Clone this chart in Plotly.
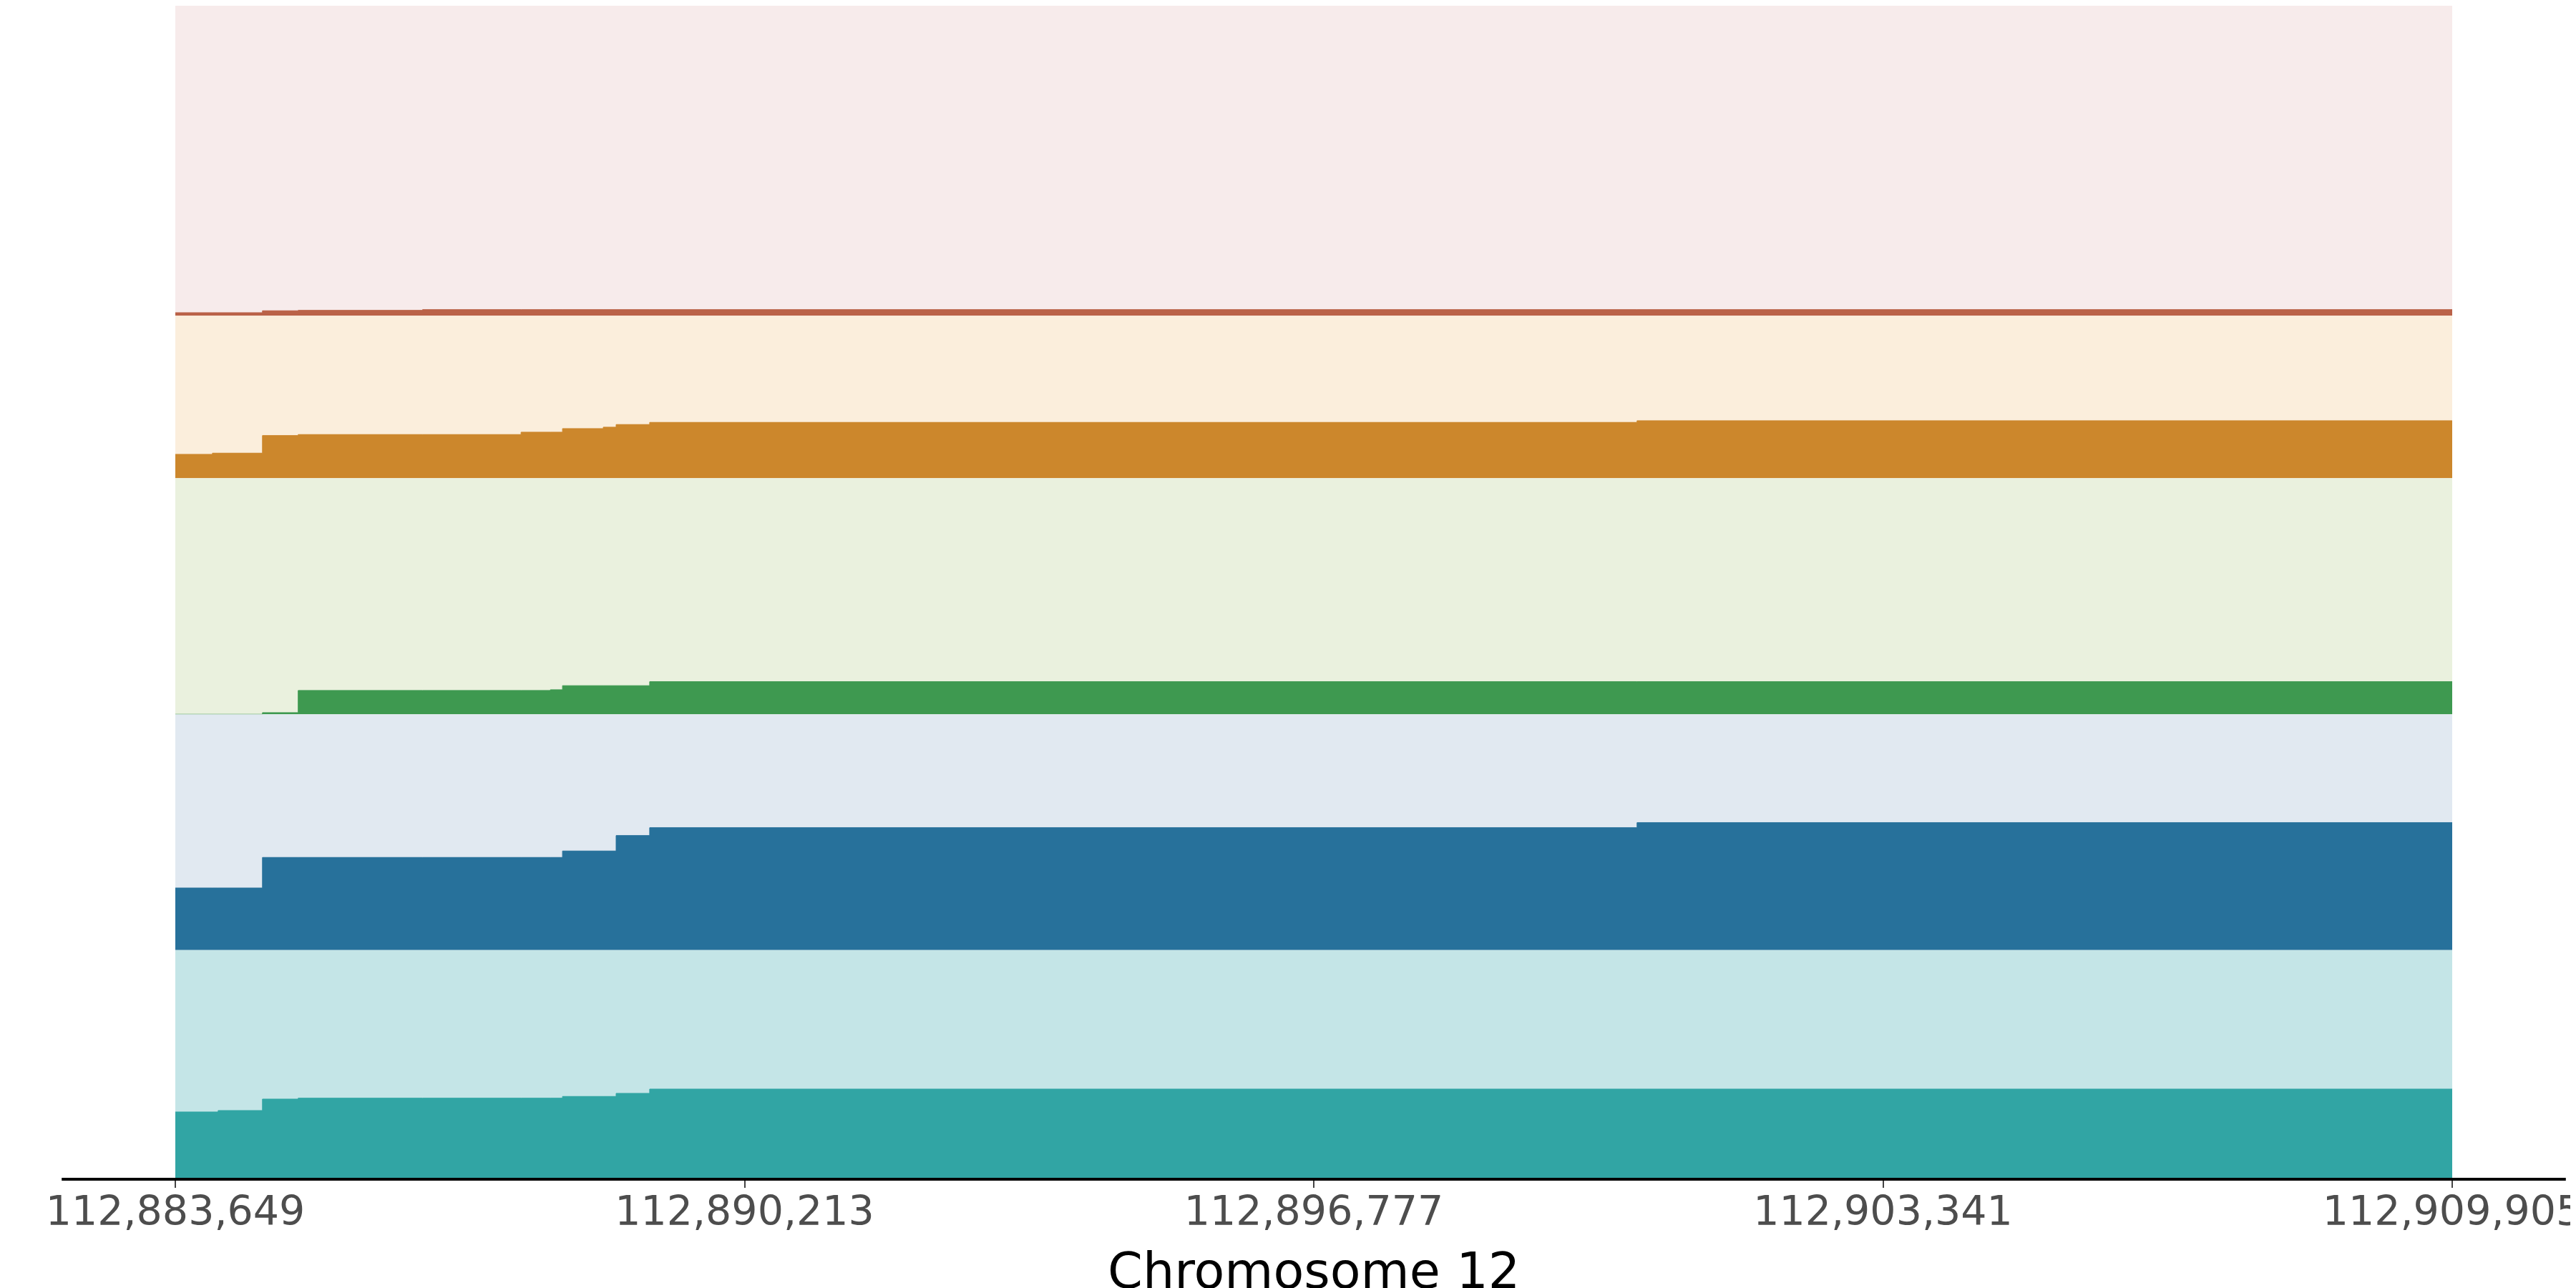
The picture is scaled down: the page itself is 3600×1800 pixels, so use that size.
import plotly.graph_objects as go

# ---- data ----
x_start = 112883649
x_end = 112909905
tick_vals = [112883649, 112890213, 112896777, 112903341, 112909905]
axis_title = "Chromosome 12"

# bin edges (bp) shared by all tracks
edges = [112883649, 112884077, 112884143, 112884654, 112885066, 112886500,
         112887636, 112887974, 112888114, 112888584, 112888732, 112889119,
         112900505, 112909905]

# per-bin signal values (top track first)
track_names = ["track1", "track2", "track3", "track4", "track5"]
red_vals    = [4.3, 4.3, 4.3, 7.0, 7.6, 8.6, 8.6, 8.6, 8.6, 8.6, 8.6, 8.6, 8.6]
orange_vals = [33.3, 35, 35, 59.6, 61, 61, 64.3, 64.3, 69.3, 71.3, 75, 78, 80.3]
green_vals  = [0, 0, 0, 2.3, 33.3, 33.3, 33.3, 34.3, 40, 40, 40, 45.6, 45.6]
blue_vals   = [86.7, 86.7, 86.7, 129.4, 129.4, 129.4, 129.4, 129.4, 138.4, 138.4, 160, 171, 178]
teal_vals   = [92, 92, 94, 110, 111.3, 111.3, 111.3, 111.3, 113.7, 113.7, 118, 124, 124]

# per-track axis maxima
track_max = [433, 227, 330, 329.4, 318.3]

# ---- styling ----
fill_colors = ["#ba6248", "#cc872c", "#3e9950", "#27719b", "#31a5a4"]
bg_colors = ["#f7ebeb", "#fbeedc", "#eaf1de", "#e1e9f1", "#c4e5e7"]
domains = [(0.7358, 1.0), (0.5974, 0.7358), (0.3962, 0.5974), (0.1953, 0.3962), (0.0, 0.1953)]
range_min = [0, 0, 0, 0, -2]

all_vals = [red_vals, orange_vals, green_vals, blue_vals, teal_vals]

fig = go.Figure()
layout_axes = {}
for i, (name, vals) in enumerate(zip(track_names, all_vals)):
    yname = "y" if i == 0 else f"y{i+1}"
    ykey = "yaxis" if i == 0 else f"yaxis{i+1}"
    fig.add_trace(go.Scatter(
        x=edges, y=vals + [vals[-1]], xaxis="x", yaxis=yname,
        mode="lines", line=dict(shape="hv", width=1, color=fill_colors[i]),
        fill="tozeroy", fillcolor=fill_colors[i], name=name,
        showlegend=False, hoverinfo="skip",
    ))
    layout_axes[ykey] = dict(domain=list(domains[i]), range=[range_min[i], track_max[i]],
                             anchor="x", showgrid=False, zeroline=False,
                             showticklabels=False, ticks="", showline=False, fixedrange=True)
    fig.add_shape(type="rect", xref="x", yref=f"{yname} domain",
                  x0=x_start, x1=x_end, y0=0, y1=1,
                  fillcolor=bg_colors[i], line=dict(width=0), layer="below")

# extended bottom axis line
fig.add_shape(type="line", xref="paper", yref="paper", x0=-0.0499, x1=1.0499, y0=0, y1=0,
              line=dict(color="black", width=4), layer="above")

fig.update_layout(
    width=3600, height=1800,
    margin=dict(l=237, r=176, t=0, b=160),
    paper_bgcolor="white", plot_bgcolor="white",
    xaxis=dict(range=[x_start, x_end], anchor="y5", tickvals=tick_vals, tickformat=",d",
               ticks="outside", ticklen=11, tickwidth=2, tickcolor="#444444",
               ticklabeloverflow="allow", ticklabelstandoff=-16,
               tickfont=dict(family="DejaVu Sans", size=57, color="#4d4d4d"),
               showgrid=False, zeroline=False, showline=False),
    **layout_axes,
)

fig.add_annotation(text=axis_title, xref="paper", yref="paper", x=0.5, y=-0.0524,
                   xanchor="center", yanchor="top", showarrow=False, borderpad=0,
                   font=dict(family="DejaVu Sans", size=70, color="black"))

fig.write_html("out.html")
